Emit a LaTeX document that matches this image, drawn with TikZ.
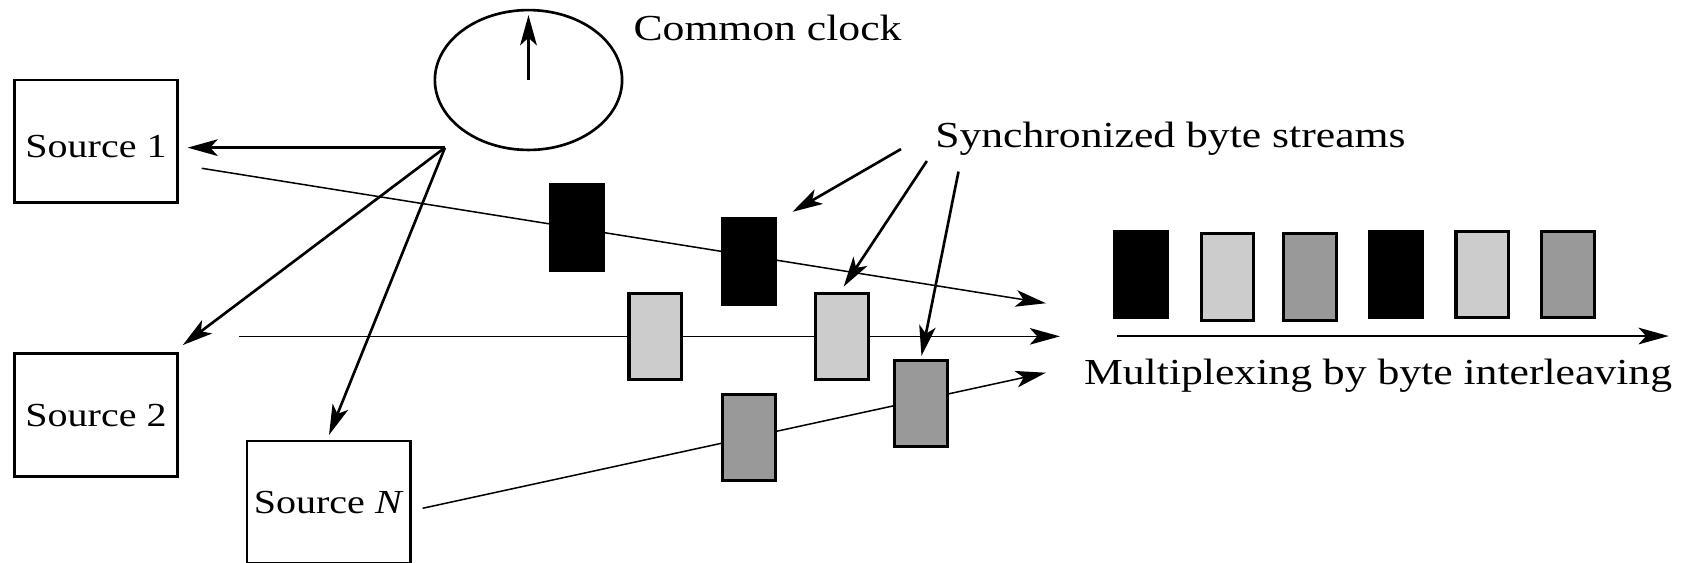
\documentclass[tikz,border=0pt]{standalone}
\usepackage{fontspec}
\setmainfont{Liberation Serif}[FakeStretch=1.19]
\usetikzlibrary{arrows.meta,shapes.geometric,backgrounds}
\definecolor{bytelight}{HTML}{CCCCCC}
\definecolor{bytedark}{HTML}{999999}

\begin{document}
\begin{tikzpicture}[x=0.01cm,y=-0.01cm,
  line width=0.7pt,
  arr/.style={-{Stealth[length=8pt,width=4.4pt,inset=2pt]}},
  srcbox/.style={draw,rectangle,minimum width=1.52cm,minimum height=1.14cm,
    inner sep=0pt,font=\fontsize{8.9}{10}\selectfont},
  byte/.style={rectangle,minimum width=0.49cm,minimum height=0.80cm,
    inner sep=0pt,draw=black,line width=0.8pt},
  blackbyte/.style={byte,fill=black},
  lightbyte/.style={byte,fill=bytelight},
  darkbyte/.style={byte,fill=bytedark},
  lbl/.style={inner sep=0pt,anchor=base west,font=\fontsize{9.7}{12}\selectfont}]

\useasboundingbox (0,0) rectangle (1568,523);

% sources
\node[srcbox,text height=8.6pt,text depth=0pt] (s1) at (89.3,131.3) {Source 1};
\node[srcbox] (s2) at (89.3,386) {Source 2};
\node[srcbox] (sN) at (305.7,467) {Source \textit{N}};

% common clock
\node[draw,ellipse,minimum width=1.74cm,minimum height=1.30cm,inner sep=0pt]
  (clock) at (491.5,74.4) {};
\coordinate (handtip) at (491.5,14);
\draw[arr,line width=0.85pt] (clock.center) -- (handtip);
\node[lbl] (clocklbl) at (588,37.5) {Common clock};

% clock distribution to the sources
\coordinate (hub) at (413.8,137.3);
\coordinate (t1) at (174.4,137.3);
\coordinate (t2) at (170,320.9);
\coordinate (tN) at (306,404.5);
\draw[arr] (hub) -- (t1);
\draw[arr] (hub) -- (t2);
\draw[arr] (hub) -- (tN);

% byte streams
\coordinate (a1) at (187.6,156.5);
\coordinate (e1) at (972.7,282);
\coordinate (a2) at (222.4,312.8);
\coordinate (e2) at (985.8,312.8);
\coordinate (aN) at (393,472.7);
\coordinate (eN) at (972.7,346.6);

\node[blackbyte] (b1) at (536.5,211.5) {};
\node[blackbyte] (b2) at (696.3,243) {};
\node[lightbyte] (g1) at (609.5,312.8) {};
\node[lightbyte] (g2) at (782.8,312.8) {};
\node[darkbyte] (d1) at (696.3,406.8) {};
\node[darkbyte] (d2) at (856.4,375.5) {};

\begin{scope}[on background layer]
  \draw[arr] (a1) -- (e1);
  \draw[arr] (a2) -- (e2);
  \draw[arr] (aN) -- (eN);
\end{scope}

% label for the streams
\node[lbl] (synclbl) at (868.6,137) {Synchronized byte streams};
\coordinate (p1) at (838,138.6);
\coordinate (p2) at (862,149.7);
\coordinate (p3) at (891.4,159.6);
\coordinate (q1) at (737,197);
\coordinate (q2) at (784.6,266.6);
\coordinate (q3) at (857,331);
\draw[arr] (p1) -- (q1);
\draw[arr] (p2) -- (q2);
\draw[arr] (p3) -- (q3);

% interleaved output
\node[blackbyte] (m1) at (1061.4,255.1) {};
\node[lightbyte] (m2) at (1141.5,257.6) {};
\node[darkbyte]  (m3) at (1218.4,257.6) {};
\node[blackbyte] (m4) at (1298.3,255.1) {};
\node[lightbyte] (m5) at (1378.6,255.2) {};
\node[darkbyte]  (m6) at (1458.5,255.2) {};

\coordinate (ms) at (1039,312.5);
\coordinate (me) at (1552,312.5);
\draw[arr] (ms) -- (me);
\node[lbl] (muxlbl) at (1007,358) {Multiplexing by byte interleaving};

\end{tikzpicture}
\end{document}
